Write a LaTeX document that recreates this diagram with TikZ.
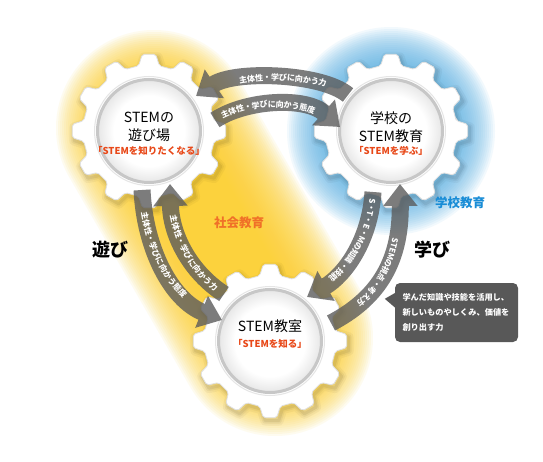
\documentclass[tikz,border=0pt]{standalone}
\usepackage{fontspec}
\newfontfamily\jp{Noto Sans CJK JP}
\usetikzlibrary{arrows.meta,decorations.text,calc}
\definecolor{glowyel}{RGB}{252,210,50}
\definecolor{glowblue}{RGB}{95,180,230}
\definecolor{arrowgray}{RGB}{92,92,92}
\definecolor{redtxt}{RGB}{232,72,24}
\definecolor{orangetxt}{RGB}{240,112,40}
\definecolor{bluetxt}{RGB}{24,140,214}
\definecolor{notegray}{RGB}{88,88,88}
\pgfdeclareradialshading{innerdisc}{\pgfpoint{0bp}{0bp}}{color(0bp)=(white); color(17bp)=(white); color(25bp)=(black!10); color(50bp)=(black!10)}
\newcommand\gearoutline[1]{\path[#1] (-9:66) \foreach \a in {0,30,...,330}{ -- (\a-9:66) -- (\a-5:77) -- (\a+5:77) -- (\a+9:66) } -- cycle;}
\newcommand\flowfont{\jp\bfseries\fontsize{8}{8}\selectfont\color{white}}
\tikzset{
  pics/gearpic/.style={code={
    \begin{scope}[shift={(2,3)}]
      \gearoutline{draw=black, draw opacity=0.035, line width=10, line join=round}
      \gearoutline{draw=black, draw opacity=0.045, line width=6, line join=round}
      \gearoutline{draw=black, draw opacity=0.06, line width=3, line join=round}
    \end{scope}
    \gearoutline{fill=white, draw=black!12, line width=0.8, rounded corners=2pt}
    \shade[shading=innerdisc] (0,0) circle (52);
    \draw[black!22, line width=3] (0,0) circle (51.5);
    \draw[black!10, line width=1] (0,0) circle (54.5);
  }},
  gearnode/.style={circle, minimum size=104, inner sep=0, outer sep=0},
  gtitle/.style={font=\jp\fontsize{14}{17.5}\selectfont, align=center, inner sep=0},
  gsub/.style={font=\jp\bfseries\fontsize{9.5}{11}\selectfont, text=redtxt, inner sep=0},
  bigword/.style={font=\jp\bfseries\fontsize{18}{18}\selectfont, inner sep=0},
  areaword/.style={font=\jp\bfseries\fontsize{12.5}{13}\selectfont, inner sep=0},
  flow/.style={arrowgray, line width=17, -{Triangle[width=33pt,length=22pt]}},
  flowtext/.style n args={2}{decoration={text along path, text={|\flowfont|#1}, text align={#2}, raise=-2.9pt}, decorate},
  note/.style={fill=notegray, rounded corners=5pt, text=white, font=\jp\bfseries\fontsize{8.2}{15}\selectfont, align=left, text width=108, inner xsep=7.5, minimum height=59}
}
\begin{document}
\begin{tikzpicture}[x=1pt,y=-1pt]
\useasboundingbox (0,0) rectangle (543,462);
\fill[white] (0,0) rectangle (543,462);

% gear centres
\node[gearnode] (play) at (149,131) {};
\node[gearnode] (school) at (391,131) {};
\node[gearnode] (room) at (270,341) {};

% glows
\foreach \r in {98,96,...,36}
  \draw[glowyel, line cap=round, line width=2*\r, opacity=0.075] ($(play.center)+(5,-3)$) -- ($(room.center)+(5,-3)$);
\foreach \r in {104,102,...,64}
  \fill[glowblue, opacity=0.08] (school.center) circle (\r);

% gears
\pic at (play.center) {gearpic};
\pic at (school.center) {gearpic};
\pic at (room.center) {gearpic};

% arrows
\begin{scope}[transparency group, opacity=0.8]
\draw[flow] ($(school)+(-43,-36)$) .. controls (322,73) and (235,70) .. ($(play)+(47,-35)$);
\draw[flow] ($(play)+(66,-11)$) .. controls (245,100) and (305,96) .. ($(school)+(-51,-4)$);
\draw[flow] ($(play)+(-7,59)$) .. controls (145,250) and (172,300) .. ($(room)+(-48,-21)$);
\draw[flow] ($(room)+(-46,-47)$) .. controls (190,272) and (171,235) .. ($(play)+(21,53)$);
\draw[flow] ($(school)+(-18,61)$) .. controls (370,240) and (345,275) .. ($(room)+(37,-44)$);
\draw[flow] ($(room)+(61,-18)$) .. controls (375,300) and (401,265) .. ($(school)+(9,53)$);
\end{scope}

% arrow texts
\path[flowtext={主体性・学びに向かう力}{center, left indent=22pt}] ($(play)+(47,-35)$) .. controls (235,70) and (322,73) .. ($(school)+(-43,-36)$);
\path[flowtext={主体性・学びに向かう態度}{center, right indent=22pt}] ($(play)+(66,-11)$) .. controls (245,100) and (305,96) .. ($(school)+(-51,-4)$);
\path[flowtext={主体性・学びに向かう態度}{center, right indent=22pt}] ($(play)+(-7,59)$) .. controls (145,250) and (172,300) .. ($(room)+(-48,-21)$);
\path[flowtext={主体性・学びに向かう力}{center, left indent=22pt}] ($(play)+(21,53)$) .. controls (171,235) and (190,272) .. ($(room)+(-46,-47)$);
\path[flowtext={S・T・E・Mの知識・技能}{center, right indent=22pt}] ($(school)+(-18,61)$) .. controls (370,240) and (345,275) .. ($(room)+(37,-44)$);
\path[flowtext={STEMの視点・考え方}{center, left indent=22pt}] ($(school)+(9,53)$) .. controls (401,265) and (375,300) .. ($(room)+(61,-18)$);

% gear texts
\node[gtitle] (playt) at (149,127) {STEMの\\遊び場};
\node[gsub] (plays) at (149,151) {「STEMを知りたくなる」};
\node[gtitle] (schoolt) at (391,127) {学校の\\STEM教育};
\node[gsub] (schools) at (391,151) {「STEMを学ぶ」};
\node[gtitle] (roomt) at (270,326) {STEM教室};
\node[gsub] (rooms) at (270,344) {「STEMを知る」};

% labels
\node[bigword] (asobi) at (110,250) {遊び};
\node[bigword] (manabi) at (432,250) {学び};
\node[areaword, text=orangetxt] (social) at (239,223) {社会教育};
\node[areaword, text=bluetxt] (schooledu) at (460,203) {学校教育};

% callout
\node[note] (note) at (456.5,312.5) {学んだ知識や技能を活用し、\\新しいものやしくみ、価値を\\創り出す力};
\fill[notegray] ($(note.north west)+(0.5,10)$) -- ($(note.north west)+(-10,16)$) -- ($(note.north west)+(0.5,25)$) -- cycle;
\end{tikzpicture}
\end{document}
